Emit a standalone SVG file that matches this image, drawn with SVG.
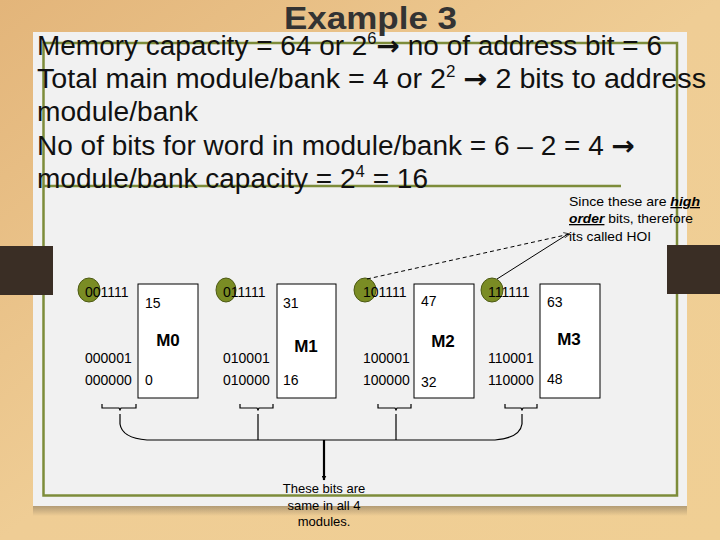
<svg xmlns="http://www.w3.org/2000/svg" width="720" height="540" viewBox="0 0 720 540">
<defs>
<linearGradient id="bg" x1="0" y1="0" x2="1" y2="1">
<stop offset="0" stop-color="#e3b57a"/>
<stop offset="0.5" stop-color="#efcd95"/>
<stop offset="1" stop-color="#f0cf94"/>
</linearGradient>
<linearGradient id="shadow" x1="0" y1="0" x2="0" y2="1">
<stop offset="0" stop-color="#8a7a60" stop-opacity="0.6"/>
<stop offset="1" stop-color="#8a7a60" stop-opacity="0"/>
</linearGradient>
<marker id="arrowFill" viewBox="0 0 10 10" refX="9" refY="5" markerWidth="5" markerHeight="5" orient="auto" markerUnits="userSpaceOnUse">
<path d="M0,0 L10,5 L0,10 Z" fill="#000"/>
</marker>
<marker id="arrowOpen" viewBox="0 0 10 10" refX="9" refY="5" markerWidth="7" markerHeight="7" orient="auto" markerUnits="userSpaceOnUse">
<path d="M0,1 L9,5 L0,9" fill="none" stroke="#000" stroke-width="1"/>
</marker>
</defs>
<style>
.body{font-family:"Liberation Sans",Arial,sans-serif;font-size:27px;fill:#111}
.sup{font-size:16px}
.arr{font-family:"DejaVu Sans",sans-serif;font-weight:bold}
.lbl{font-family:"Liberation Sans",Arial,sans-serif;font-size:14px;fill:#000}
.small{font-family:"Liberation Sans",Arial,sans-serif;font-size:13px;fill:#000}
.mod{font-family:"Liberation Sans",Arial,sans-serif;font-size:17px;font-weight:bold;fill:#000;text-anchor:middle}
.box{fill:#fff;stroke:#000;stroke-width:1}
.dot{fill:#7a8c24;stroke:#4d5a14;stroke-width:1}
.conn{fill:none;stroke:#000;stroke-width:1.2}
</style>
<rect x="0" y="0" width="720" height="540" fill="url(#bg)"/>
<rect x="33" y="506" width="654" height="10" fill="url(#shadow)"/>
<rect x="33" y="32" width="654" height="474" fill="#f1f1f1"/>
<rect x="43.5" y="43" width="633.5" height="452.5" fill="none" stroke="#7d8c3a" stroke-width="2.5"/>
<rect x="0" y="246" width="53" height="49" fill="#3a2e25"/>
<rect x="667" y="245" width="53" height="49" fill="#3a2e25"/>
<line x1="43" y1="186" x2="621" y2="186" stroke="#7d8c3a" stroke-width="2.5"/>

<text x="284" y="29" font-family="'Liberation Sans',Arial,sans-serif" font-size="32" font-weight="bold" fill="#333" textLength="173" lengthAdjust="spacingAndGlyphs">Example 3</text>

<g id="text-lines">
<text class="body" x="37" y="55" textLength="625" lengthAdjust="spacingAndGlyphs">Memory capacity = 64 or 2<tspan class="sup" dy="-11">6</tspan><tspan class="arr" dy="11">→</tspan> no of address bit = 6</text>
<text class="body" x="37" y="88" textLength="669" lengthAdjust="spacingAndGlyphs">Total main module/bank = 4 or 2<tspan class="sup" dy="-11">2</tspan><tspan dy="11">  </tspan><tspan class="arr">→</tspan> 2 bits to address</text>
<text class="body" x="37" y="121" textLength="161" lengthAdjust="spacingAndGlyphs">module/bank</text>
<text class="body" x="37" y="155" textLength="598" lengthAdjust="spacingAndGlyphs">No of bits for word in module/bank = 6 – 2 = 4 <tspan class="arr">→</tspan></text>
<text class="body" x="37" y="188" textLength="391" lengthAdjust="spacingAndGlyphs">module/bank capacity = 2<tspan class="sup" dy="-11">4</tspan><tspan dy="11"> = 16</tspan></text>
</g>

<g id="note-hoi">
<text class="small" x="569" y="206" textLength="131" lengthAdjust="spacingAndGlyphs">Since these are <tspan font-weight="bold" font-style="italic" text-decoration="underline">high</tspan></text>
<text class="small" x="569" y="223" textLength="124" lengthAdjust="spacingAndGlyphs"><tspan font-weight="bold" font-style="italic" text-decoration="underline">order</tspan> bits, therefore</text>
<text class="small" x="569" y="241" textLength="82" lengthAdjust="spacingAndGlyphs">its called HOI</text>
</g>

<g id="note-same">
<text class="small" x="324" y="493" text-anchor="middle">These bits are</text>
<text class="small" x="324" y="510" text-anchor="middle">same in all 4</text>
<text class="small" x="324" y="526" text-anchor="middle">modules.</text>
</g>

<g id="module-M0">
<ellipse class="dot" cx="89" cy="290" rx="11" ry="12"/>
<text class="lbl" x="85" y="297">001111</text>
<text class="lbl" x="85" y="363">000001</text>
<text class="lbl" x="85" y="385">000000</text>
<rect class="box" x="138" y="284" width="60" height="114"/>
<text class="lbl" x="145" y="308">15</text>
<text class="mod" x="168" y="346">M0</text>
<text class="lbl" x="145" y="385">0</text>
</g>

<g id="module-M1">
<ellipse class="dot" cx="226" cy="290" rx="10" ry="12"/>
<text class="lbl" x="223" y="297">011111</text>
<text class="lbl" x="223" y="363">010001</text>
<text class="lbl" x="223" y="385">010000</text>
<rect class="box" x="277" y="284" width="59" height="114"/>
<text class="lbl" x="283" y="308">31</text>
<text class="mod" x="306" y="352">M1</text>
<text class="lbl" x="283" y="385">16</text>
</g>

<g id="module-M2">
<ellipse class="dot" cx="365" cy="290" rx="11" ry="12"/>
<text class="lbl" x="363" y="297">101111</text>
<text class="lbl" x="363" y="363">100001</text>
<text class="lbl" x="363" y="385">100000</text>
<rect class="box" x="414" y="284" width="60" height="114"/>
<text class="lbl" x="421" y="306">47</text>
<text class="mod" x="443" y="347">M2</text>
<text class="lbl" x="421" y="387">32</text>
</g>

<g id="module-M3">
<ellipse class="dot" cx="492" cy="290" rx="11" ry="12"/>
<text class="lbl" x="488" y="297">111111</text>
<text class="lbl" x="488" y="363">110001</text>
<text class="lbl" x="488" y="385">110000</text>
<rect class="box" x="540" y="284" width="60" height="114"/>
<text class="lbl" x="547" y="307">63</text>
<text class="mod" x="569" y="345">M3</text>
<text class="lbl" x="547" y="384">48</text>
</g>

<g id="connectors">
<path class="conn" d="M102,404 V408 H119 L120,410 L121,408 H136 V404"/>
<path class="conn" d="M240,404 V408 H257 L258,410 L259,408 H273 V404"/>
<path class="conn" d="M378,404 V408 H395 L396,410 L397,408 H411 V404"/>
<path class="conn" d="M505,404 V408 H521 L522,410 L523,408 H537 V404"/>
<path class="conn" d="M120,414 V424 Q122,438 147,440 H495 Q520,438 522,424 V414"/>
<line class="conn" x1="258" y1="414" x2="258" y2="440"/>
<line class="conn" x1="396" y1="414" x2="396" y2="440"/>
<line x1="324" y1="440" x2="324" y2="480" stroke="#000" stroke-width="2.2" marker-end="url(#arrowFill)"/>
<line x1="367" y1="279" x2="570" y2="234" stroke="#000" stroke-width="1" stroke-dasharray="4,3" marker-end="url(#arrowOpen)"/>
<line x1="497" y1="279" x2="568" y2="234" stroke="#000" stroke-width="1"/>
</g>
</svg>
